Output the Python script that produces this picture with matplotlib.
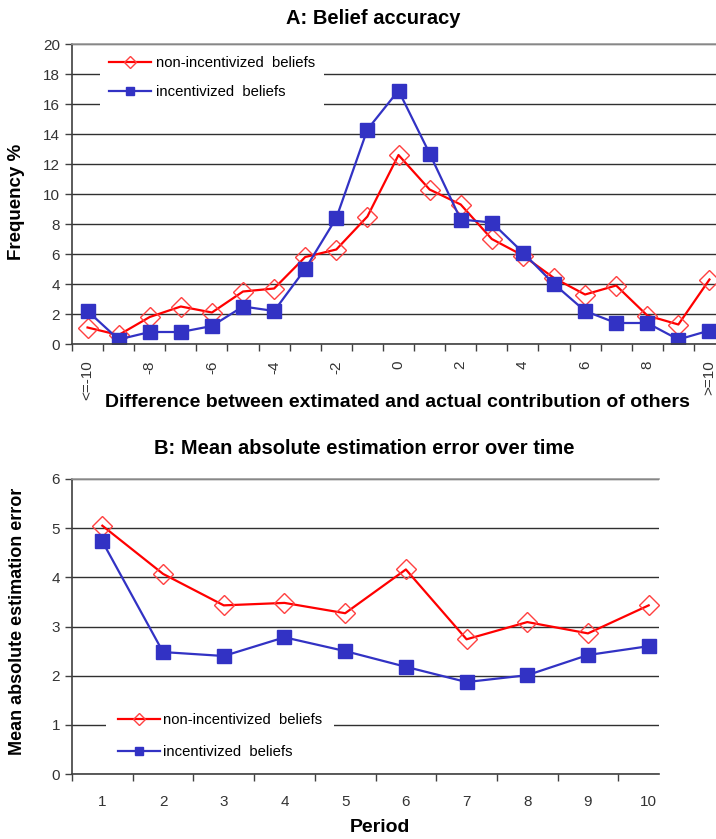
import matplotlib.pyplot as plt
import numpy as np

plt.rcParams['font.family'] = ['Liberation Sans', 'DejaVu Sans']

# panel A: belief accuracy (frequency %)
diff_labels = ['<=-10'] + [str(v) for v in range(-9, 10)] + ['>=10']
belief_non = [1.1, 0.6, 1.8, 2.5, 2.1, 3.5, 3.7, 5.8, 6.3, 8.5, 12.6,
              10.3, 9.3, 7.0, 5.9, 4.4, 3.3, 3.9, 1.9, 1.3, 4.3]
belief_inc = [2.2, 0.3, 0.8, 0.8, 1.2, 2.5, 2.2, 5.0, 8.4, 14.3, 16.9,
              12.7, 8.3, 8.1, 6.1, 4.0, 2.2, 1.4, 1.4, 0.3, 0.9]

# panel B: mean absolute estimation error per period
periods = [str(p) for p in range(1, 11)]
error_non = [5.05, 4.07, 3.43, 3.48, 3.27, 4.16, 2.74, 3.09, 2.86, 3.43]
error_inc = [4.73, 2.48, 2.40, 2.78, 2.50, 2.18, 1.87, 2.01, 2.42, 2.60]

W, H = 716, 839
RED = '#FF0000'
BLUE = '#3232C4'

red_style = dict(color=RED, lw=1.6, marker='D', markersize=10, mfc='none',
                 mec='#FF4040', mew=1.0, label='non-incentivized  beliefs')
blue_style = dict(color=BLUE, lw=1.6, marker='s', markersize=10, mfc=BLUE,
                  mec=BLUE, label='incentivized  beliefs')


def box(left, top, right, bottom):
    return [left / W, 1 - bottom / H, (right - left) / W, (bottom - top) / H]


def style_axes(ax, n, ymax, ystep, labels, rotate, pad):
    x = np.arange(n)
    ax.set_ylim(0, ymax)
    ax.set_yticks(np.arange(0, ymax + ystep / 2, ystep))
    ax.set_xticks(x)
    ax.set_xticklabels(labels, rotation=90 if rotate else 0)
    ax.set_xticks(np.arange(-0.5, n - 1, 1.0), minor=True)
    ax.tick_params(axis='x', which='major', length=0, pad=pad,
                   labelsize=11, labelcolor='#333333')
    ax.tick_params(axis='x', which='minor', length=5, width=1, color='#404040')
    ax.tick_params(axis='y', length=5, width=1, color='#404040',
                   labelsize=11, labelcolor='#333333')
    ax.spines['right'].set_visible(False)
    ax.spines['top'].set_color('#999999')
    ax.spines['top'].set_linewidth(1.2)
    for s in ('left', 'bottom'):
        ax.spines[s].set_color('#404040')
        ax.spines[s].set_linewidth(1.2)


fig = plt.figure(figsize=(W / 100, H / 100), dpi=100)

# ---- panel A
axA = fig.add_axes(box(72, 44, 725, 344))
xa = np.arange(len(diff_labels))
axA.yaxis.grid(True, color='#303030', lw=1.0)
axA.set_axisbelow(True)
axA.plot(xa, belief_non, **red_style)
axA.plot(xa, belief_inc, **blue_style)
axA.set_xlim(-0.5, len(diff_labels) - 0.5)
shown = [lab if i % 2 == 0 else '' for i, lab in enumerate(diff_labels)]
style_axes(axA, len(diff_labels), 20, 2, shown, True, 12)
axA.legend(loc='upper left', bbox_to_anchor=(0.043, 0.99),
           borderaxespad=0, borderpad=0.6, frameon=True, fancybox=False,
           edgecolor='none', facecolor='white', framealpha=1,
           handlelength=2.8, handletextpad=0.35, labelspacing=1.0,
           markerscale=0.6, fontsize=10.7)

# ---- panel B
axB = fig.add_axes(box(72, 479, 659, 774))
xb = np.arange(len(periods))
for yv in range(0, 7):
    axB.axhline(yv, color='#303030', lw=1.0, zorder=1)
axB.plot(xb, error_non, **red_style)
axB.plot(xb, error_inc, **blue_style)
axB.set_xlim(-0.5, 9.17)
style_axes(axB, len(periods), 6, 1, periods, False, 15)
axB.legend(loc='upper left', bbox_to_anchor=(0.058, 0.247),
           borderaxespad=0, borderpad=0.8, frameon=True, fancybox=False,
           edgecolor='none', facecolor='white', framealpha=1,
           handlelength=2.8, handletextpad=0.25, labelspacing=1.2,
           markerscale=0.6, fontsize=10.7)

# ---- titles and axis labels
bold = dict(fontweight='bold', color='black', ha='center', va='center')
fig.text(373 / W, 1 - 18 / H, 'A: Belief accuracy', fontsize=14.5, **bold)
fig.text(397 / W, 1 - 403 / H,
         'Difference between extimated and actual contribution of others',
         fontsize=14, **bold)
fig.text(17 / W, 1 - 202 / H, 'Frequency %', rotation=90, fontsize=13.5, **bold)
fig.text(364 / W, 1 - 448 / H, 'B: Mean absolute estimation error over time',
         fontsize=14.5, **bold)
fig.text(380 / W, 1 - 828 / H, 'Period', fontsize=14, **bold)
fig.text(18 / W, 1 - 621 / H, 'Mean absolute estimation error', rotation=90,
         fontsize=13, **bold)

fig.savefig('out.png', dpi=100)
